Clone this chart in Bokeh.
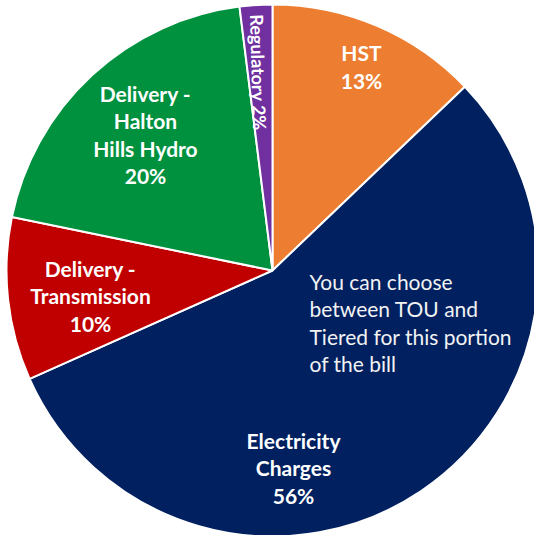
import math
from bokeh.plotting import figure
from bokeh.models import Range1d, ColumnDataSource
from bokeh.core.properties import value
from bokeh.embed import file_html
from bokeh.resources import INLINE

# ---- data ----
categories = ["HST", "Electricity Charges", "Delivery - Transmission",
              "Delivery - Halton Hills Hydro", "Regulatory"]
shares = [13, 56, 10, 20, 2]
colors = ["#ED7D31", "#002060", "#C00000", "#00913F", "#7030A0"]
label_texts = ["HST\n13%", "Electricity\nCharges\n56%", "Delivery -\nTransmission\n10%",
               "Delivery -\nHalton\nHills Hydro\n20%", "Regulatory 2%"]
note_text = "You can choose\nbetween TOU and\nTiered for this portion\nof the bill"

# ---- layout (screen pixel positions of the reference) ----
W, H = 534, 535
cx_s, cy_s, R = 272, 270, 266
def sy(y):
    return H - y
label_xy = [(361, 66), (293, 467), (90, 295), (145, 134), (258, 72)]
label_angle = [0, 0, 0, 0, math.radians(-88.5)]
label_size = ["21px", "21px", "21px", "21px", "18px"]
note_xy = (309, 322)

total = float(sum(shares))
starts, ends = [], []
cum = 0.0
for s in shares:
    c0 = cum / total
    cum += s
    c1 = cum / total
    starts.append(math.pi / 2 - 2 * math.pi * c1)
    ends.append(math.pi / 2 - 2 * math.pi * c0)

src = ColumnDataSource(dict(cat=categories, share=shares, color=colors,
                            start=starts, end=ends))

p = figure(width=W, height=H, output_backend="svg", toolbar_location=None,
           x_range=Range1d(0, W), y_range=Range1d(0, H), min_border=0)
p.axis.visible = False
p.grid.visible = False
p.outline_line_color = None
p.background_fill_color = "white"
p.border_fill_color = "white"

p.wedge(x=cx_s, y=sy(cy_s), radius=R, start_angle="start", end_angle="end",
        fill_color="color", line_color="white", line_width=2, source=src)

lsrc = ColumnDataSource(dict(x=[xy[0] for xy in label_xy], y=[sy(xy[1]) for xy in label_xy],
                             text=label_texts, angle=label_angle, size=label_size))
p.text(x="x", y="y", text="text", angle="angle", source=lsrc,
       text_font=value("Lato"), text_font_style="bold", text_font_size="size",
       text_color="white", text_align="center", text_baseline="middle",
       text_line_height=1.1)

p.text(x=[note_xy[0]], y=[sy(note_xy[1])], text=[note_text],
       text_font=value("Lato"), text_font_size="21px", text_color="#F2F2F2",
       text_align="left", text_baseline="middle", text_line_height=1.1)

open("out.html", "w").write(file_html(p, INLINE))
